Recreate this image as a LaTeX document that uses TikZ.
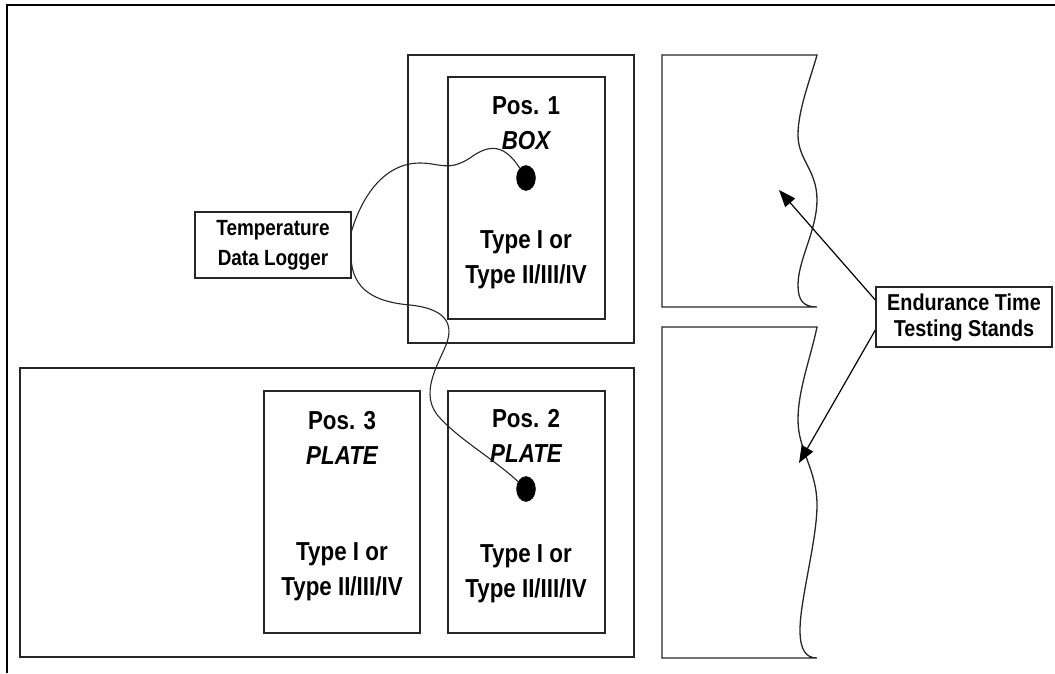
\documentclass[tikz,border=0pt]{standalone}
\usepackage{fontspec}
\newfontfamily\nar{Liberation Sans}[FakeStretch=0.86]
\usetikzlibrary{arrows.meta,shapes.geometric,calc}
\begin{document}
\begin{tikzpicture}[x=1pt,y=-1pt,
  box/.style={draw=black!85,line width=1.3pt,rectangle,inner sep=0pt},
  lbl/.style={align=center,inner sep=0pt,font=\nar\bfseries\fontsize{26}{35}\selectfont},
  lbls/.style={align=center,inner sep=0pt,font=\nar\bfseries\fontsize{22}{30}\selectfont},
  dot/.style={ellipse,fill=black,draw=black,minimum width=19pt,minimum height=25pt,inner sep=0pt},
  wire/.style={draw=black!85,line width=1.1pt},
  arr/.style={draw=black,line width=1.2pt,-{Triangle[length=17pt,width=13pt]}}]
\useasboundingbox (0,0) rectangle (1055,673);
% outer frame (top and left edges)
\draw[line width=1.6pt] (7,673) -- (7,5) -- (1055,5);
% upper big box and Pos 1
\node[box,minimum width=226pt,minimum height=288pt] (big1) at (521,199) {};
\node[box,minimum width=157pt,minimum height=242pt] (p1) at (526.5,198) {};
\node[lbl] (p1t) at (526,123) {Pos. 1\\\itshape BOX};
\node[lbl] (p1b) at (526,260) {Type I or\\Type II/III/IV};
\node[dot] (d1) at (526,178) {};
% lower big box, Pos 2 and Pos 3
\node[box,minimum width=614pt,minimum height=289pt] (big2) at (327,512.5) {};
\node[box,minimum width=157pt,minimum height=242pt] (p2) at (526.5,512) {};
\node[box,minimum width=156pt,minimum height=242pt] (p3) at (342,512) {};
\node[lbl] (p2t) at (526,436) {Pos. 2\\\itshape PLATE};
\node[lbl] (p2b) at (526,573.5) {Type I or\\Type II/III/IV};
\node[lbl] (p3t) at (342,437.5) {Pos. 3\\\itshape PLATE};
\node[lbl] (p3b) at (342,572) {Type I or\\Type II/III/IV};
\node[dot] (d2) at (526,489) {};
% temperature data logger
\node[box,fill=white,minimum width=156pt,minimum height=66pt] (log) at (273,245) {};
\node[lbls] (logt) at (273,245) {Temperature\\Data Logger};
\coordinate (w1) at (351,233);
\coordinate (w2) at (351,257);
% wires
\draw[wire] (w1) .. controls (362,195) and (385,163) .. (420,163)
  .. controls (440,163) and (448,172) .. (470,158)
  .. controls (490,143) and (505,145) .. (d1);
\draw[wire] (w2) .. controls (352,290) and (375,302) .. (410,305)
  .. controls (440,308) and (456,320) .. (446,345)
  .. controls (438,365) and (418,395) .. (440,418)
  .. controls (460,440) and (495,460) .. (d2);
% testing stands
\draw[line width=1.3pt,draw=black!85] (817,307) -- (662,307) -- (662,55) -- (817,55)
  .. controls (810,80) and (798,110) .. (798,135)
  .. controls (798,160) and (817,170) .. (817,200)
  .. controls (817,230) and (798,260) .. (798,285)
  .. controls (798,300) and (803,307) .. (817,307);
\draw[line width=1.3pt,draw=black!85] (817,658) -- (662,658) -- (662,327) -- (817,327)
  .. controls (810,360) and (798,390) .. (798,420)
  .. controls (798,450) and (817,470) .. (817,505)
  .. controls (817,540) and (800,600) .. (800,630)
  .. controls (800,650) and (806,658) .. (817,658);
% endurance label
\node[box,minimum width=176pt,minimum height=60pt] (end) at (964,317) {};
\node[lbls,font=\nar\bfseries\fontsize{23}{26}\selectfont] (endt) at (964,318) {Endurance Time\\Testing Stands};
\coordinate (a1) at ($(end.west)+(0,-17)$);
\coordinate (a2) at ($(end.west)+(0,13)$);
\coordinate (t1) at (779,190);
\coordinate (t2) at (799,463);
\draw[arr] (a1) -- (t1);
\draw[arr] (a2) -- (t2);
\end{tikzpicture}
\end{document}
